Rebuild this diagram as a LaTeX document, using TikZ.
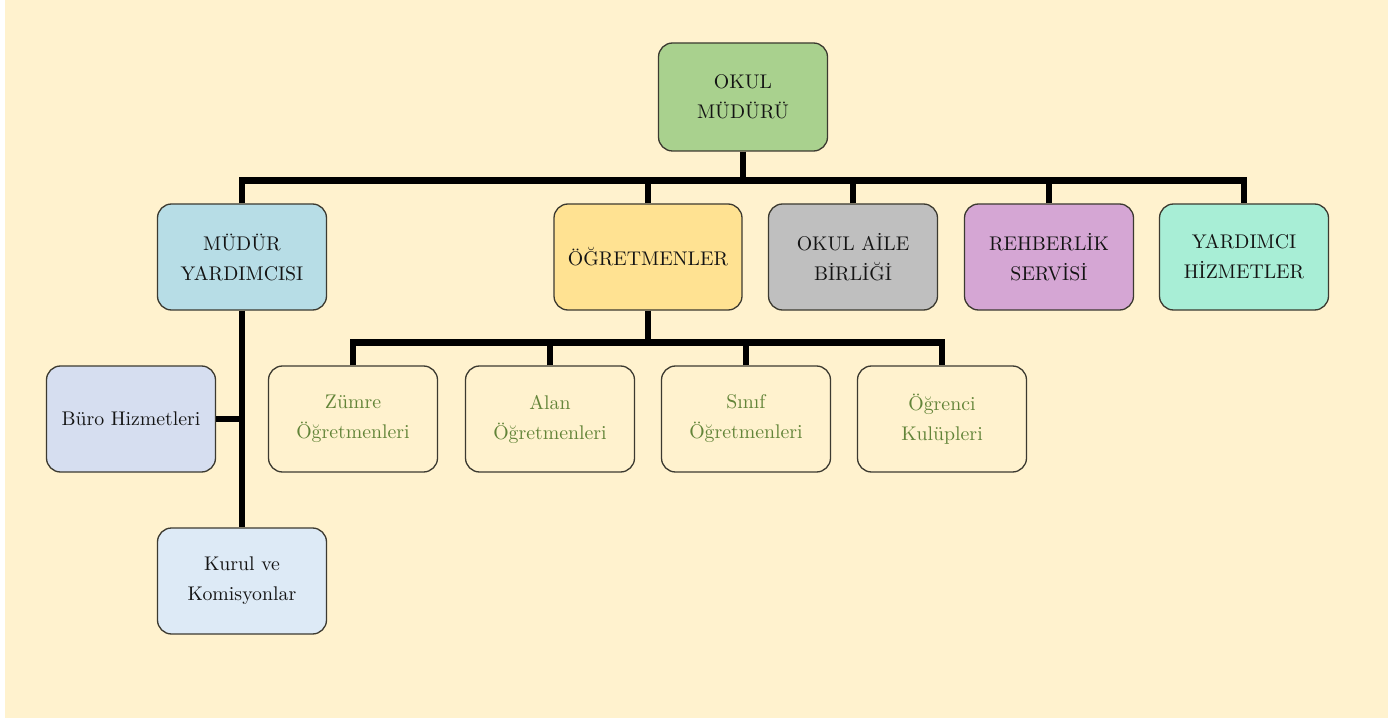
\documentclass[tikz,border=0pt]{standalone}
\usepackage{fontspec}
\setmainfont{lmroman10-regular.otf}
\usepackage{tikz}
\usepackage{xcolor}

\definecolor{cream}{RGB}{255,242,206}
\definecolor{edge}{RGB}{60,58,48}
\definecolor{txt}{RGB}{20,20,20}
\definecolor{leaf}{RGB}{98,132,56}
\definecolor{cgreen}{RGB}{169,209,142}
\definecolor{cblue}{RGB}{183,221,230}
\definecolor{cyellow}{RGB}{255,226,146}
\definecolor{cgray}{RGB}{191,191,191}
\definecolor{cpurple}{RGB}{213,166,212}
\definecolor{cmint}{RGB}{168,238,214}
\definecolor{clav}{RGB}{214,222,240}
\definecolor{csky}{RGB}{221,234,246}

\begin{document}
\begin{tikzpicture}[x=1pt, y=-1pt,
					box/.style={draw=edge, line width=1.3pt, rounded corners=14pt, minimum width=169pt, minimum height=106pt, inner sep=2pt, align=center, text=txt, font=\fontsize{19.8}{30}\selectfont},
					subbox/.style={box, fill=cream, text=leaf},
					link/.style={line width=6.5pt},]
					\fill[white] (0,0) rectangle (1393,722);
					\fill[cream] (5,0) rectangle (1388,718);
					\useasboundingbox (0,0) rectangle (1393,722);

					\node[box, fill=cgreen, minimum height=108pt] (top) at (743,97) {OKUL\\MÜDÜRÜ};

					\node[box, fill=cblue] (myard) at (242,257) {MÜDÜR\\YARDIMCISI};
					\node[box, fill=cyellow, minimum width=188pt] (ogret) at (648,257) {ÖĞRETMENLER};
					\node[box, fill=cgray] (aile) at (853,257) {OKUL AİLE\\BİRLİĞİ};
					\node[box, fill=cpurple] (rehber) at (1049,257) {REHBERLİK\\SERVİSİ};
					\node[box, fill=cmint] (yard) at (1244,257) {YARDIMCI\\HİZMETLER};

					\node[subbox] (zumre) at (353,419) {Zümre\\Öğretmenleri};
					\node[subbox] (alan) at (550,419) {Alan\\Öğretmenleri};
					\node[subbox] (sinif) at (746,419) {Sınıf\\Öğretmenleri};
					\node[subbox] (ogrenci) at (942,419) {Öğrenci\\Kulüpleri};

					\node[box, fill=clav] (buro) at (131,419) {Büro Hizmetleri};
					\node[box, fill=csky] (kurul) at (242,581) {Kurul ve\\Komisyonlar};

					\coordinate (bus) at (743,181);
					\draw[link] (myard.north) -- ++(0,-23) -| (yard.north);
					\draw[link] (top.south) -- (bus);
					\draw[link] (ogret.north) -- (ogret.north |- bus);
					\draw[link] (aile.north) -- (aile.north |- bus);
					\draw[link] (rehber.north) -- (rehber.north |- bus);

					\coordinate (subbus) at (648,343);
					\draw[link] (zumre.north) -- ++(0,-23) -| (ogrenci.north);
					\draw[link] (ogret.south) -- (subbus);
					\draw[link] (alan.north) -- (alan.north |- subbus);
					\draw[link] (sinif.north) -- (sinif.north |- subbus);

					\draw[link] (myard.south) -- (kurul.north);
					\draw[link] (buro.east) -- (buro.east -| myard.south);
				\end{tikzpicture}
\end{document}
